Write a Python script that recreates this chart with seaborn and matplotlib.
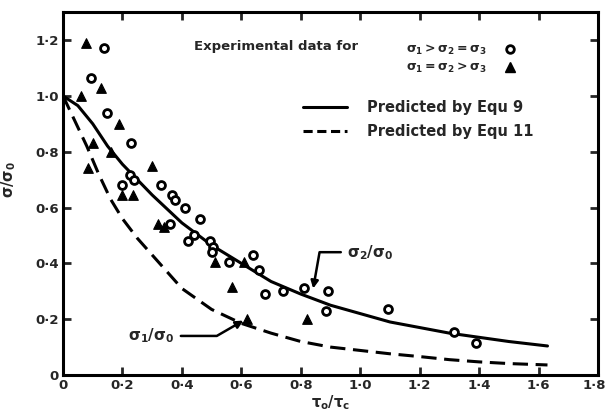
import matplotlib
matplotlib.use("Agg")
import matplotlib.pyplot as plt
import matplotlib.transforms as mtransforms
import seaborn as sns
import pandas as pd
from matplotlib.lines import Line2D

# ---- data ----
circ_x = [0.138, 0.094, 0.148, 0.229, 0.226, 0.24, 0.199, 0.33, 0.367, 0.377, 0.41,
          0.46, 0.36, 0.44, 0.42, 0.495, 0.505, 0.50, 0.56, 0.64, 0.66, 0.68, 0.74,
          0.81, 0.89, 0.885, 1.095, 1.316, 1.39]
circ_y = [1.17, 1.065, 0.94, 0.83, 0.715, 0.70, 0.68, 0.68, 0.645, 0.627, 0.60,
          0.56, 0.54, 0.50, 0.48, 0.48, 0.46, 0.44, 0.405, 0.43, 0.375, 0.29, 0.30,
          0.31, 0.30, 0.23, 0.235, 0.155, 0.115]

tri_x = [0.077, 0.128, 0.061, 0.19, 0.10, 0.16, 0.084, 0.30, 0.236, 0.20, 0.32,
         0.34, 0.51, 0.61, 0.57, 0.62, 0.82]
tri_y = [1.19, 1.03, 1.00, 0.90, 0.83, 0.80, 0.74, 0.75, 0.645, 0.645, 0.54,
         0.53, 0.405, 0.405, 0.315, 0.20, 0.20]

eq9_x = [0.0, 0.05, 0.1, 0.15, 0.2, 0.25, 0.3, 0.4, 0.5, 0.6, 0.7, 0.8, 0.9,
         1.0, 1.1, 1.2, 1.3, 1.4, 1.5, 1.63]
eq9_y = [1.00, 0.965, 0.90, 0.82, 0.755, 0.70, 0.645, 0.545, 0.465, 0.40, 0.335,
         0.29, 0.25, 0.22, 0.19, 0.17, 0.15, 0.135, 0.12, 0.104]

eq11_x = [0.0, 0.04, 0.08, 0.12, 0.16, 0.2, 0.25, 0.3, 0.35, 0.4, 0.5, 0.6, 0.7,
          0.8, 0.9, 1.0, 1.1, 1.2, 1.3, 1.4, 1.5, 1.63]
eq11_y = [1.00, 0.91, 0.82, 0.72, 0.63, 0.56, 0.49, 0.43, 0.37, 0.31, 0.235,
          0.185, 0.15, 0.12, 0.10, 0.088, 0.076, 0.066, 0.055, 0.047, 0.041, 0.036]

x_ticks = [0, 0.2, 0.4, 0.6, 0.8, 1.0, 1.2, 1.4, 1.6, 1.8]
x_tick_labels = ["0", "0·2", "0·4", "0·6", "0·8", "1·0", "1·2", "1·4", "1·6", "1·8"]
y_ticks = [0, 0.2, 0.4, 0.6, 0.8, 1.0, 1.2]
y_tick_labels = ["0", "0·2", "0·4", "0·6", "0·8", "1·0", "1·2"]

# ---- plotting ----
sns.set_style("ticks")
plt.rcParams['font.family'] = ['DejaVu Sans']
plt.rcParams['mathtext.default'] = 'bf'

fig = plt.figure(figsize=(6.07, 4.19), dpi=100)
ax = fig.add_axes([0.1038, 0.105, 0.8814, 0.866])

df_c = pd.DataFrame({"x": circ_x, "y": circ_y})
df_t = pd.DataFrame({"x": tri_x, "y": tri_y})
df9 = pd.DataFrame({"x": eq9_x, "y": eq9_y})
df11 = pd.DataFrame({"x": eq11_x, "y": eq11_y})

sns.lineplot(data=df9, x="x", y="y", ax=ax, color="black", linewidth=2.2, sort=False)
sns.lineplot(data=df11, x="x", y="y", ax=ax, color="black", linewidth=2.2,
             sort=False, dashes=False, linestyle=(0, (5, 2.5)))
sns.scatterplot(data=df_c, x="x", y="y", ax=ax, marker="o", s=32,
                facecolor="white", edgecolor="black", linewidth=2.0, zorder=5)
sns.scatterplot(data=df_t, x="x", y="y", ax=ax, marker="^", s=48,
                color="black", edgecolor="black", linewidth=0.8, zorder=5)

ax.set_xlim(0, 1.8)
ax.set_ylim(0, 1.3)
ax.set_xticks(x_ticks)
ax.set_xticklabels(x_tick_labels, fontsize=9.5, fontweight="bold")
ax.set_yticks(y_ticks)
ax.set_yticklabels(y_tick_labels, fontsize=9.5, fontweight="bold")
ax.tick_params(direction="in", length=6, width=2, top=True, right=True, pad=3)
for sp in ax.spines.values():
    sp.set_visible(True)
    sp.set_linewidth(2.2)
    sp.set_color("black")
# keep the last x label inside the figure
last = ax.get_xticklabels()[-1]
last.set_transform(last.get_transform() +
                   mtransforms.ScaledTranslation(-4 / 100, 0, fig.dpi_scale_trans))

ax.set_xlabel(r"$\tau_o/\tau_c$", fontsize=10.5, labelpad=1)
ax.set_ylabel(r"$\sigma/\sigma_0$", fontsize=10.5)
ax.yaxis.set_label_coords(-0.085, 0.54)

# annotations
ax.annotate(r"$\sigma_2/\sigma_0$", xy=(0.84, 0.30), xytext=(0.955, 0.44),
            fontsize=11, va="center", ha="left",
            arrowprops=dict(arrowstyle="-|>", color="black", lw=1.8,
                            connectionstyle="angle,angleA=0,angleB=80,rad=0"))
ax.annotate(r"$\sigma_1/\sigma_0$", xy=(0.615, 0.20), xytext=(0.22, 0.14),
            fontsize=11, va="center", ha="left",
            arrowprops=dict(arrowstyle="-|>", color="black", lw=1.8,
                            connectionstyle="angle,angleA=0,angleB=30,rad=0"))

# legends
ax.text(0.245, 0.904, "Experimental data for", transform=ax.transAxes,
        fontsize=9.5, fontweight="bold", va="center", ha="left")
h1 = [Line2D([], [], marker="o", ls="none", mfc="white", mec="black", mew=2.0, ms=5.5),
      Line2D([], [], marker="^", ls="none", color="black", ms=7)]
leg1 = ax.legend(h1, [r"$\sigma_1 > \sigma_2 = \sigma_3$", r"$\sigma_1 = \sigma_2 > \sigma_3$"],
                 loc="upper left", bbox_to_anchor=(0.625, 0.939), frameon=False,
                 markerfirst=False, fontsize=9, handletextpad=0.9,
                 labelspacing=0.3, borderpad=0.2)
ax.add_artist(leg1)
h2 = [Line2D([], [], color="black", lw=2.2),
      Line2D([], [], color="black", lw=2.2, ls=(0, (3, 1.5)))]
ax.legend(h2, ["Predicted by Equ 9", "Predicted by Equ 11"],
          loc="upper left", bbox_to_anchor=(0.43, 0.786), frameon=False,
          prop={"size": 10.5, "weight": "bold"}, handlelength=3.0,
          handletextpad=1.4, labelspacing=0.6, borderpad=0.2)

fig.savefig("out.png", dpi=100)
